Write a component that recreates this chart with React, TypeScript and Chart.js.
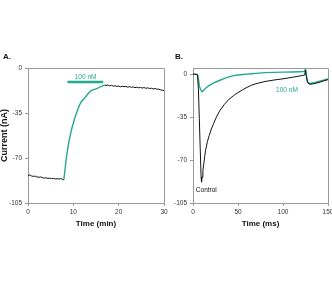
import { useEffect, useRef } from "react";
import { Chart, registerables } from "chart.js";

Chart.register(...registerables);

// ---- Panel A: current over time, drug applied between ~8 and ~17 min ----
const aTimeBaseline = [0, 0.4, 0.8, 1.2, 1.6, 2.0, 2.4, 2.8, 3.2, 3.6, 4.0, 4.4, 4.8, 5.2, 5.6, 6.0, 6.4, 6.8, 7.2, 7.6, 7.9];
const aCurrentBaseline = [-83.5, -83.2, -84.0, -84.3, -84.1, -84.8, -85.0, -84.7, -85.3, -85.6, -85.4, -85.9, -85.7, -86.0, -85.8, -86.3, -86.1, -86.4, -86.0, -86.6, -87.0];

const aTimeDrug = [7.9, 8.2, 8.5, 8.8, 9.1, 9.4, 9.7, 10.0, 10.3, 10.7, 11.0, 11.4, 11.8, 12.2, 12.6, 13.0, 13.4, 13.8, 14.2, 14.6, 15.0, 15.4, 15.8, 16.2, 16.6, 16.9];
const aCurrentDrug = [-87, -78, -69, -62, -56, -51, -46.5, -43, -39, -35, -32, -28.5, -26, -24.5, -23, -21, -19.5, -18, -17.3, -16.6, -16.2, -15.7, -14.9, -14.3, -13.6, -13.3];

const aTimeWash = [16.9, 17.2, 17.6, 18.0, 18.4, 18.8, 19.2, 19.6, 20.0, 20.4, 20.8, 21.2, 21.6, 22.0, 22.4, 22.8, 23.2, 23.6, 24.0, 24.4, 24.8, 25.2, 25.6, 26.0, 26.4, 26.8, 27.2, 27.6, 28.0, 28.4, 28.8, 29.2, 29.6, 30.0];
const aCurrentWash = [-13.3, -13.6, -13.2, -13.9, -13.5, -14.1, -13.8, -14.3, -14.1, -14.6, -14.2, -14.5, -14.3, -14.9, -14.5, -15.0, -14.7, -15.3, -14.9, -15.4, -15.1, -15.6, -15.2, -15.8, -15.4, -16.0, -15.7, -16.3, -15.9, -16.5, -16.4, -17.0, -17.2, -17.6];

const aDrugBar = { from: 8.7, to: 16.6, level: -10.9 };
const aDrugLabel = { text: "100 nM", x: 12.7, y: -6.8 };
const aXTicks = [0, 10, 20, 30];

// ---- Panel B: current traces in ms, control vs 100 nM ----
const bTime = [0, 2, 4, 5, 6, 7, 8, 9, 9.5, 10, 11, 12, 13, 14, 16, 18, 20, 23, 26, 30, 35, 40, 45, 50, 55, 60, 65, 70, 80, 90, 100, 110, 118, 122, 124, 125, 126, 127, 128, 130, 133, 136, 140, 145, 150];
const bControl = [0, 0, -0.3, -0.5, -12, -36, -60, -84, -88, -84, -78.5, -73, -67, -62, -55, -50, -45.5, -40, -35, -29.5, -24.5, -20.5, -17.5, -15, -12.8, -10.8, -9.0, -7.8, -6.0, -4.8, -3.8, -2.6, -1.6, -1.0, -0.8, 3.0, -2.0, -6.0, -7.5, -8.2, -8.0, -7.5, -6.8, -5.5, -4.5];
const bDrug = [0, 0, -0.2, -0.5, -4, -9, -12, -13.3, -13.8, -14.0, -13.6, -13.0, -12.3, -11.5, -10.3, -9.2, -8.3, -7.2, -6.2, -5.0, -3.5, -2.2, -1.2, -0.7, -0.3, 0, 0.3, 0.6, 1.2, 1.4, 1.6, 1.8, 2.0, 2.1, 2.3, 4.5, -1.0, -5.0, -7.0, -7.8, -7.2, -6.8, -6.0, -5.0, -4.0];

const bDrugLabel = { text: "100 nM", x: 104.4, y: -12.8 };
const bControlLabel = { text: "Control", x: 14.8, y: -94.7 };
const bXTicks = [0, 50, 100, 150];

const yTicks = [-105, -70, -35, 0];

const TEAL = "#22a98e";
const INK = "#111111";
const FRAME = "#9a9a9a";
const TICK_TEXT = "#333333";
const FAMILY = "'Liberation Sans', Arial, Helvetica, sans-serif";

const pts = (xs: number[], ys: number[]) => xs.map((x, i) => ({ x, y: ys[i] }));

type Note = { text: string; x: number; y: number; color: string };

function decorPlugin(panel: string, notes: Note[], bar?: { from: number; to: number; level: number }) {
  return {
    id: "decor" + panel,
    afterDraw(chart: any) {
      const { ctx, chartArea: a, scales } = chart;
      const sx = scales.x;
      const sy = scales.y;
      ctx.save();
      // box frame: top and right edges
      ctx.strokeStyle = FRAME;
      ctx.lineWidth = 1;
      ctx.beginPath();
      ctx.moveTo(a.left, Math.round(a.top) + 0.5);
      ctx.lineTo(Math.round(a.right) + 0.5, Math.round(a.top) + 0.5);
      ctx.lineTo(Math.round(a.right) + 0.5, a.bottom);
      ctx.stroke();

      if (bar) {
        ctx.strokeStyle = TEAL;
        ctx.lineWidth = 2.5;
        ctx.beginPath();
        const y = sy.getPixelForValue(bar.level);
        ctx.moveTo(sx.getPixelForValue(bar.from), y);
        ctx.lineTo(sx.getPixelForValue(bar.to), y);
        ctx.stroke();
      }

      ctx.font = `6.5px ${FAMILY}`;
      ctx.textAlign = "center";
      ctx.textBaseline = "middle";
      for (const n of notes) {
        ctx.fillStyle = n.color;
        ctx.fillText(n.text, sx.getPixelForValue(n.x), sy.getPixelForValue(n.y));
      }

      ctx.font = `bold 8px ${FAMILY}`;
      ctx.fillStyle = INK;
      ctx.textAlign = "left";
      ctx.textBaseline = "alphabetic";
      ctx.fillText(panel + ".", panel === "A" ? 3 : 5, 59);
      ctx.restore();
    },
  };
}

function axisX(min: number, max: number, ticks: number[], title: string) {
  return {
    type: "linear" as const,
    min,
    max,
    afterBuildTicks(scale: any) {
      scale.ticks = ticks.map((value) => ({ value }));
    },
    afterFit(scale: any) {
      scale.height = 26;
      scale.paddingLeft = 0;
      scale.paddingRight = 0;
    },
    grid: { display: true, drawOnChartArea: false, drawTicks: true, tickLength: 3, color: FRAME },
    border: { display: true, color: FRAME, width: 1 },
    ticks: {
      autoSkip: false,
      maxRotation: 0,
      padding: 2,
      color: TICK_TEXT,
      font: { size: 6.5, family: FAMILY },
    },
    title: {
      display: true,
      text: title,
      color: INK,
      padding: 0,
      font: { size: 8, weight: "bold" as const, family: FAMILY },
    },
  };
}

function axisY(max: number, width: number, title?: string) {
  return {
    type: "linear" as const,
    min: -105,
    max,
    afterBuildTicks(scale: any) {
      scale.ticks = yTicks.map((value) => ({ value }));
    },
    afterFit(scale: any) {
      scale.width = width;
      scale.paddingTop = 0;
      scale.paddingBottom = 0;
    },
    grid: { display: true, drawOnChartArea: false, drawTicks: true, tickLength: 3, color: FRAME },
    border: { display: true, color: FRAME, width: 1 },
    ticks: {
      autoSkip: false,
      padding: 3,
      color: TICK_TEXT,
      font: { size: 6.5, family: FAMILY },
    },
    title: {
      display: !!title,
      text: title || "",
      color: INK,
      padding: 0,
      font: { size: 9, weight: "bold" as const, family: FAMILY, lineHeight: 1 },
    },
  };
}

function line(data: { x: number; y: number }[], color: string, width: number) {
  return {
    data,
    borderColor: color,
    backgroundColor: color,
    borderWidth: width,
    pointRadius: 0,
    tension: 0,
    fill: false,
  };
}

export default function App() {
  const refA = useRef<HTMLCanvasElement>(null);
  const refB = useRef<HTMLCanvasElement>(null);

  useEffect(() => {
    const chartA = new Chart(refA.current!, {
      type: "line",
      data: {
        datasets: [
          line(pts(aTimeBaseline, aCurrentBaseline), INK, 1),
          line(pts(aTimeDrug, aCurrentDrug), TEAL, 1.4),
          line(pts(aTimeWash, aCurrentWash), INK, 1),
        ],
      },
      options: {
        animation: false,
        responsive: false,
        devicePixelRatio: 1,
        layout: { padding: { left: 0, right: 6, top: 68, bottom: 55 } },
        plugins: { legend: { display: false }, tooltip: { enabled: false } },
        scales: {
          x: axisX(0, 30, aXTicks, "Time (min)"),
          y: axisY(0, 28, "Current (nA)"),
        },
      },
      plugins: [decorPlugin("A", [{ ...aDrugLabel, color: TEAL }], aDrugBar)],
    } as any);

    const chartB = new Chart(refB.current!, {
      type: "line",
      data: {
        datasets: [
          line(pts(bTime, bControl), INK, 1),
          line(pts(bTime, bDrug), TEAL, 1.4),
        ],
      },
      options: {
        animation: false,
        responsive: false,
        devicePixelRatio: 1,
        layout: { padding: { left: 0, right: 4, top: 68, bottom: 55 } },
        plugins: { legend: { display: false }, tooltip: { enabled: false } },
        scales: {
          x: axisX(0, 150, bXTicks, "Time (ms)"),
          y: axisY(5, 23),
        },
      },
      plugins: [
        decorPlugin("B", [
          { ...bDrugLabel, color: TEAL },
          { ...bControlLabel, color: INK },
        ]),
      ],
    } as any);

    return () => {
      chartA.destroy();
      chartB.destroy();
    };
  }, []);

  return (
    <div style={{ position: "fixed", left: 0, top: 0, width: 332, height: 284, background: "#fff" }}>
      <canvas ref={refA} width={170} height={284} style={{ position: "absolute", left: 0, top: 0 }} />
      <canvas ref={refB} width={162} height={284} style={{ position: "absolute", left: 170, top: 0 }} />
    </div>
  );
}
